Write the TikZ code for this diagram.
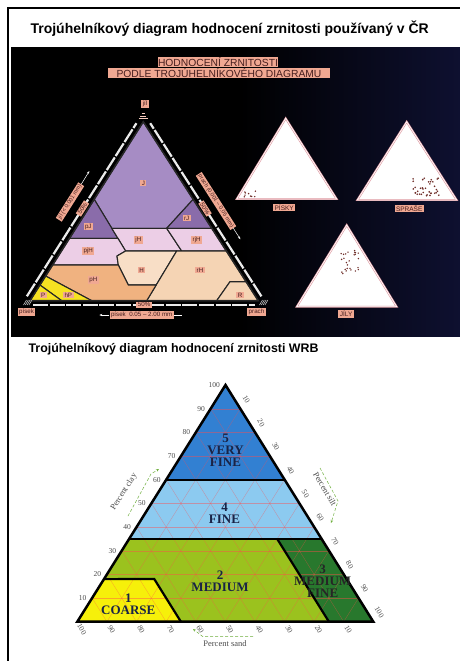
\documentclass[tikz,border=0pt]{standalone}
\usepackage{fontspec}
\setmainfont{Liberation Serif}
\setsansfont{Liberation Sans}
\usepackage{xcolor}
\usetikzlibrary{calc}
\usetikzlibrary{arrows.meta}

\definecolor{salmon}{RGB}{240,168,146}
\definecolor{tagink}{RGB}{70,30,30}
\definecolor{nightblue}{RGB}{14,16,48}
\definecolor{jil}{RGB}{166,140,196}
\definecolor{jildark}{RGB}{138,108,170}
\definecolor{hlinjil}{RGB}{236,206,230}
\definecolor{hlin}{RGB}{248,222,198}
\definecolor{hlinrach}{RGB}{245,212,180}
\definecolor{pisch}{RGB}{240,178,128}
\definecolor{pisky}{RGB}{246,226,34}
\definecolor{rose}{RGB}{222,150,158}
\definecolor{dotbrown}{RGB}{110,45,40}
\definecolor{vfine}{RGB}{50,128,210}
\definecolor{fine}{RGB}{140,202,240}
\definecolor{medium}{RGB}{155,194,30}
\definecolor{medfine}{RGB}{40,120,45}
\definecolor{coarse}{RGB}{246,240,10}
\definecolor{classink}{RGB}{25,35,70}
\definecolor{arrowgreen}{RGB}{110,175,60}

\begin{document}
\begin{tikzpicture}[x=1pt,y=-1pt,
  tag/.style={fill=salmon,text=tagink,inner xsep=1.5pt,inner ysep=0.9pt,font=\sffamily\fontsize{6.2}{6.2}\selectfont},
  headtag/.style={tag,font=\sffamily\fontsize{10.3}{10.3}\selectfont,minimum height=10pt,inner sep=0pt},
  zone/.style={draw=black!85,line width=1.1pt,line join=round},
  stripe/.style={draw=white!92!black,line width=2.2pt,dash pattern=on 15pt off 1.6pt},
  minitri/.style={fill=white,draw=rose,double=white,double distance=0.7pt,line width=0.6pt},
  classlabel/.style={font=\bfseries\fontsize{13}{12}\selectfont,text=classink,align=center},
  ticklabel/.style={font=\fontsize{7.5}{7.5}\selectfont,text=black!70,inner sep=1pt},
  axislabel/.style={font=\fontsize{8.5}{8.5}\selectfont,text=black!70,inner sep=1pt},
  finegrid/.style={red!70!white,line width=0.35pt,opacity=0.45},
  guide/.style={draw=arrowgreen,densely dashed,line width=0.5pt,-{Stealth[length=3pt,width=2.5pt]}},
  heavyline/.style={line width=2.2pt,line join=miter}]
\useasboundingbox (0,0) rectangle (460,661);
\fill[white] (0,0) rectangle (460,661);
\draw[line width=2pt] (8,661) -- (8,8) -- (460,8);
\node[anchor=base west,font=\sffamily\bfseries\fontsize{14}{14}\selectfont] (titleCR) at (27,34) {Trojúhelníkový diagram hodnocení zrnitosti používaný v ČR};

% fotografie
\fill[black] (11,47.5) rectangle (460,336.5);
\shade[left color=black,right color=nightblue] (240,47.5) rectangle (460,336.5);
\node[headtag,minimum width=118pt] (headA) at (218,61.7) {HODNOCENÍ ZRNITOSTI};
\node[headtag,minimum width=222pt] (headB) at (219,73.3) {PODLE TROJÚHELNÍKOVÉHO DIAGRAMU};

\coordinate (tA) at (143.3,121.7);
\coordinate (tL) at (30,300.7);
\coordinate (tR) at (258.3,300.7);
\coordinate (a1) at (94.2,199.3);
\coordinate (a2) at (111.8,228.3);
\coordinate (a3) at (117.9,238.3);
\coordinate (a4) at (125.6,251);
\coordinate (b1) at (166.7,228.3);
\coordinate (b2) at (193.2,199.3);
\coordinate (b3) at (211.8,228.3);
\coordinate (b4) at (181.7,251);
\coordinate (b5) at (226.4,251);
\coordinate (c1) at (69.5,238.3);
\coordinate (c2) at (117,256);
\coordinate (c3) at (118.3,265);
\coordinate (c4) at (52.6,265);
\coordinate (h1) at (176.7,251);
\coordinate (h2) at (156.2,285);
\coordinate (h3) at (128.3,285);
\coordinate (h4) at (146.7,300.7);
\coordinate (r1) at (230,281.7);
\coordinate (r2) at (246.1,281.7);
\coordinate (r3) at (216.7,300.7);
\coordinate (y1) at (45.6,276);
\coordinate (y2) at (91.7,300.7);
\coordinate (y3) at (39.9,285);
\coordinate (y4) at (61.7,300.7);

\filldraw[zone,fill=jil] (tA) -- (a1) -- (a2) -- (b1) -- (b2) -- cycle;
\filldraw[zone,fill=jildark] (a1) -- (a2) -- (a3) -- (c1) -- cycle;
\filldraw[zone,fill=jildark] (b2) -- (b1) -- (b3) -- cycle;
\filldraw[zone,fill=hlinjil] (a2) -- (b1) -- (b4) -- (a4) -- cycle;
\filldraw[zone,fill=hlinjil] (b1) -- (b3) -- (b5) -- (b4) -- cycle;
\filldraw[zone,fill=hlinjil] (c1) -- (a3) -- (a4) -- (c2) -- (c3) -- (c4) -- cycle;
\filldraw[zone,fill=hlin] (a4) -- (h1) -- (h2) -- (h3) -- (c3) -- (c2) -- cycle;
\filldraw[zone,fill=hlinrach] (h1) -- (b5) -- (r2) -- (r1) -- (r3) -- (h4) -- (h2) -- cycle;
\filldraw[zone,fill=hlinrach] (r1) -- (r2) -- (tR) -- (r3) -- cycle;
\filldraw[zone,fill=pisch] (c4) -- (c3) -- (h3) -- (h2) -- (h4) -- (y2) -- (y1) -- cycle;
\filldraw[zone,fill=pisky] (y1) -- (y2) -- (y4) -- (y3) -- cycle;
\filldraw[zone,fill=pisky] (y3) -- (y4) -- (tL) -- cycle;
\draw[line width=1.5pt,black!85,line join=miter] (tA) -- (tL) -- (tR) -- cycle;

\draw[stripe,shorten <=2pt,shorten >=5pt] ($(tL)+(-4.2,-2.7)$) -- ($(tA)+(-4.2,-2.7)$);
\draw[stripe,shorten <=2pt,shorten >=5pt] ($(tR)+(4.2,-2.7)$) -- ($(tA)+(4.2,-2.7)$);
\draw[stripe,shorten <=3pt,shorten >=3pt] ($(tL)+(0,4)$) -- ($(tR)+(0,4)$);
\foreach \w/\yy in {1.5/113.5,3/116,4.5/118.5}
  \draw[salmon!60!white,line width=0.9pt] (143.3-\w,\yy) -- (143.3+\w,\yy);
\foreach \i in {0,1,2,3} {
  \draw[white!75!black,line width=0.6pt] (23.5+1.8*\i,305) -- ++(3,-5);
  \draw[white!75!black,line width=0.6pt] (259.5+1.8*\i,305) -- ++(3,-5);
}

\node[tag] (tagJ) at (143.3,183.3) {J};
\node[tag] (tagpJ) at (88.3,226.7) {pJ};
\node[tag] (tagrJ) at (186.7,218.3) {rJ};
\node[tag] (tagjH) at (138.3,240) {jH};
\node[tag] (tagrjH) at (196.7,240) {rjH};
\node[tag] (tagpjH) at (88.3,251) {pjH};
\node[tag] (tagH) at (141.7,270) {H};
\node[tag] (tagrH) at (200,270) {rH};
\node[tag] (tagpH) at (93.3,280) {pH};
\node[tag] (tagP) at (43.3,295) {P};
\node[tag] (taghP) at (68.3,295) {hP};
\node[tag] (tagR) at (240,295) {R};

\node[tag] (topjil) at (145,104) {jíl};
\node[tag] (cornersand) at (26.5,312) {písek};
\node[tag] (cornersilt) at (256.5,312) {prach};
\node[tag,rotate=57.7] (halfL) at (82.5,208.5) {50\%};
\node[tag,rotate=-57.5] (halfR) at (205,208.5) {50\%};
\node[tag] (halfB) at (144.2,304.7) {50\%};
\node[tag,rotate=57.7,font=\sffamily\fontsize{5.6}{5.6}\selectfont] (clayaxis) at (70,202) {jíl (< 0.001 mm)};
\draw[white,line width=0.5pt,-{Stealth[length=3pt]}] (clayaxis.east) -- ++(8,-13);
\node[tag,rotate=-57.5,font=\sffamily\fontsize{5.6}{5.6}\selectfont] (siltaxis) at (216,201) {prach (0.001 – 0.05 mm)};
\draw[white,line width=0.5pt,-{Stealth[length=3pt]}] (siltaxis.east) -- ++(7,11);
\node[tag] (sandaxis) at (141.7,315) {písek\ \ 0.05 – 2.00 mm};
\draw[white,line width=0.5pt,-{Stealth[length=3pt]}] (sandaxis.west) -- ++(-10,0);
\draw[white,line width=0.5pt] (sandaxis.east) -- ++(8,0);

% vzorky
\filldraw[minitri] (285.7,118.3) -- (236.7,199) -- (336.7,199) -- cycle;
\filldraw[minitri] (406.7,121.7) -- (357.3,200) -- (456.7,200) -- cycle;
\filldraw[minitri] (346.7,225) -- (296.7,306.7) -- (396.7,306.7) -- cycle;
\node[tag,font=\sffamily\fontsize{6.5}{6.5}\selectfont] (lblpisky) at (284.2,207.5) {PÍSKY};
\node[tag,font=\sffamily\fontsize{6.5}{6.5}\selectfont] (lblsprase) at (409.2,208.3) {SPRAŠE};
\node[tag,font=\sffamily\fontsize{6.5}{6.5}\selectfont] (lbljily) at (346.2,314) {JÍLY};
\pgfmathsetseed{12}
\foreach \i in {1,...,9} {
  \pgfmathsetmacro{\dotx}{244+rnd*13}
  \pgfmathsetmacro{\doty}{191+rnd*6}
  \fill[dotbrown] (\dotx,\doty) circle (0.8pt);
}
\foreach \i in {1,...,36} {
  \pgfmathsetmacro{\dotx}{412+rnd*28}
  \pgfmathsetmacro{\doty}{178+rnd*18}
  \fill[dotbrown] (\dotx,\doty) circle (0.9pt);
}
\foreach \i in {1,...,26} {
  \pgfmathsetmacro{\dotx}{341+rnd*18}
  \pgfmathsetmacro{\doty}{248+rnd*26}
  \fill[dotbrown] (\dotx,\doty) circle (0.8pt);
}

% WRB
\node[anchor=base west,font=\sffamily\bfseries\fontsize{12.4}{12.4}\selectfont] (titleWRB) at (25,352) {Trojúhelníkový diagram hodnocení zrnitosti WRB};

\coordinate (sa) at (77.3,621.7);
\coordinate (si) at (373.3,621.7);
\coordinate (cl) at (225.5,385);

\fill[medium] (sa) -- (si) -- ($(si)!0.35!(cl)$) -- ($(sa)!0.35!(cl)$) -- cycle;
\fill[coarse] (sa) -- (barycentric cs:sa=0.65,si=0.35) -- (barycentric cs:sa=0.65,si=0.17,cl=0.18) -- ($(sa)!0.18!(cl)$) -- cycle;
\fill[medfine] (barycentric cs:sa=0.15,si=0.85) -- (si) -- ($(si)!0.35!(cl)$) -- (barycentric cs:sa=0.15,si=0.5,cl=0.35) -- cycle;
\fill[fine] ($(sa)!0.35!(cl)$) -- ($(si)!0.35!(cl)$) -- ($(si)!0.6!(cl)$) -- ($(sa)!0.6!(cl)$) -- cycle;
\fill[vfine] ($(sa)!0.6!(cl)$) -- ($(si)!0.6!(cl)$) -- (cl) -- cycle;

\foreach \k [evaluate=\k as \f using \k/10] in {1,...,9} {
  \draw[finegrid] ($(sa)!\f!(cl)$) -- ($(si)!\f!(cl)$);
  \draw[finegrid] ($(sa)!\f!(si)$) -- ($(cl)!\f!(si)$);
  \draw[finegrid] ($(si)!\f!(sa)$) -- ($(cl)!\f!(sa)$);
}

\draw[heavyline] ($(sa)!0.35!(cl)$) -- ($(si)!0.35!(cl)$);
\draw[heavyline] ($(sa)!0.6!(cl)$) -- ($(si)!0.6!(cl)$);
\draw[heavyline] ($(sa)!0.18!(cl)$) -- (barycentric cs:sa=0.65,si=0.17,cl=0.18) -- (barycentric cs:sa=0.65,si=0.35);
\draw[heavyline] (barycentric cs:sa=0.15,si=0.5,cl=0.35) -- (barycentric cs:sa=0.15,si=0.85);
\draw[heavyline,line width=2.5pt] (sa) -- (si) -- (cl) -- cycle;

\node[classlabel] (vf) at (225.5,450) {5\\VERY\\FINE};
\node[classlabel] (fn) at (224.5,513) {4\\FINE};
\node[classlabel] (md) at (220,581) {2\\MEDIUM};
\node[classlabel,text=black!85] (mf) at (322.7,581.5) {3\\MEDIUM\\FINE};
\node[classlabel] (cs) at (128.3,604.5) {1\\COARSE};

\foreach \k [evaluate=\k as \f using \k/10, evaluate=\k as \v using int(10*\k)] in {1,...,10} {
  \node[ticklabel,anchor=east] (clay\k) at ($(sa)!\f!(cl)+(-4.5,0)$) {\v};
  \node[ticklabel,rotate=-60] (silt\k) at ($(cl)!\f!(si)+(6,-9.5)$) {\v};
  \node[ticklabel,rotate=-60] (sand\k) at ($(si)!\f!(sa)+(4.5,7.5)$) {\v};
}

\node[axislabel,rotate=58] (pclay) at (124,492) {Percent clay};
\draw[guide] (128,516) -- (151,474) -- (159,469);
\node[axislabel,rotate=-60] (psilt) at (325,489) {Percent silt};
\draw[guide] (320,468) -- (338,501) -- (331,523);
\node[axislabel] (psand) at (225,644) {Percent sand};
\draw[guide] (253,636.7) -- (203,636.7) -- (193,629);
\end{tikzpicture}
\end{document}
